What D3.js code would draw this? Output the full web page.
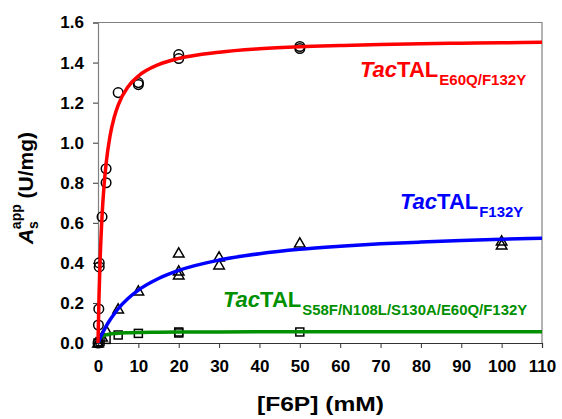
<!DOCTYPE html>
<html>
<head>
<meta charset="utf-8">
<script src="https://cdn.jsdelivr.net/npm/d3@7"></script>
<style>
  body { margin: 0; background: #fff; }
  text { font-family: Arial, "Liberation Sans", sans-serif; font-weight: bold; }
</style>
</head>
<body>
<svg id="chart" width="562" height="419"></svg>
<script>
// measured points, [F6P] mM vs activity U/mg
var dblPts = [[0,0],[0.1,0.09],[0.2,0.17],[0.3,0.38],[0.3,0.40],[1,0.63],[2,0.80],[2,0.87],
              [5,1.25],[10,1.29],[10,1.30],[20,1.42],[20,1.44],[50,1.47],[50,1.48]];
var f132yPts = [[0,0],[1,0.03],[2,0.065],[5,0.17],[10,0.26],[20,0.34],[20,0.36],[20,0.45],
                [30,0.39],[30,0.43],[50,0.50],[100,0.49],[100,0.51]];
var multiPts = [[0,0],[0.5,0.007],[2,0.018],[5,0.04],[10,0.048],[20,0.05],[20,0.055],[50,0.055]];

// fitted curves
var fitX = [0,0.25,0.5,1,1.5,2,3,4,5,7.5,10,15,20,30,40,50,60,70,80,90,100,110];
var dblFit   = [0,0.23,0.40,0.633,0.786,0.894,1.036,1.126,1.188,1.281,1.333,1.390,1.421,1.452,1.469,1.479,1.485,1.490,1.494,1.497,1.499,1.501];
var f132yFit = [0,0.0118,0.0232,0.0446,0.064,0.0829,0.116,0.145,0.171,0.223,0.264,0.322,0.3625,0.414,0.446,0.468,0.483,0.495,0.504,0.512,0.518,0.523];
var multiFit = [0,0.0136,0.0219,0.0317,0.0372,0.0407,0.045,0.0474,0.0491,0.0513,0.0528,0.0539,0.0548,0.0555,0.0559,0.0561,0.0562,0.0563,0.0564,0.0565,0.0565,0.0566];

var xTicks = d3.range(0, 111, 10);
var yTicks = [0,0.2,0.4,0.6,0.8,1.0,1.2,1.4,1.6];

var svg = d3.select("#chart");
var x = d3.scaleLinear().domain([0,110]).range([98,542]);
var y = d3.scaleLinear().domain([0,1.6]).range([343,22.5]);

// frame
svg.append("path")
  .attr("d", "M" + x(0) + "," + y(1.6) + "H" + x(110) + "V" + y(0))
  .attr("fill", "none").attr("stroke", "#808080").attr("stroke-width", 1.2);

var yAxis = svg.append("g").attr("transform", "translate(" + x(0) + ",0)")
  .call(d3.axisLeft(y).tickValues(yTicks).tickFormat(d3.format(".1f")).tickSize(5).tickPadding(9));
var xAxis = svg.append("g").attr("transform", "translate(0," + y(0) + ")")
  .call(d3.axisBottom(x).tickValues(xTicks).tickSize(5).tickPadding(12));
yAxis.select(".domain").attr("stroke", "#808080").attr("stroke-width", 1.2);
xAxis.select(".domain").attr("stroke", "#333").attr("stroke-width", 1.2);
svg.selectAll(".tick line").attr("stroke", "#333");
svg.selectAll(".tick text").attr("font-size", 17).attr("fill", "#000")
  .style("font-family", "Arial, 'Liberation Sans', sans-serif").style("font-weight", "bold");

// markers
var g2 = svg.append("g");
g2.selectAll("circle").data(dblPts).enter().append("circle")
  .attr("cx", d => x(d[0])).attr("cy", d => y(d[1])).attr("r", 4.8)
  .attr("fill", "none").attr("stroke", "#000").attr("stroke-width", 1.5);
g2.selectAll(".tri").data(f132yPts).enter().append("path").attr("class", "tri")
  .attr("d", d3.symbol().type(d3.symbolTriangle).size(48))
  .attr("transform", d => "translate(" + x(d[0]) + "," + (y(d[1]) + 1) + ")")
  .attr("fill", "none").attr("stroke", "#000").attr("stroke-width", 1.5);
g2.selectAll(".sq").data(multiPts).enter().append("rect").attr("class", "sq")
  .attr("x", d => x(d[0]) - 4).attr("y", d => y(d[1]) - 4).attr("width", 8).attr("height", 8)
  .attr("fill", "none").attr("stroke", "#000").attr("stroke-width", 1.5);

// fitted lines
var line = d3.line().curve(d3.curveMonotoneX).x(d => x(d[0])).y(d => y(d[1]));
[[multiFit, "#009000"], [f132yFit, "#0000ff"], [dblFit, "#ff0000"]].forEach(function(s){
  svg.append("path").datum(fitX.map((v, i) => [v, s[0][i]]))
    .attr("d", line).attr("fill", "none").attr("stroke", s[1]).attr("stroke-width", 3.5);
});

// series labels
function seriesLabel(px, py, sub, subW, color){
  var t = svg.append("text").attr("x", px).attr("y", py).attr("fill", color).attr("font-size", 22);
  t.append("tspan").attr("font-style", "italic").text("Tac");
  t.append("tspan").text("TAL");
  t.append("tspan").attr("font-size", 14).attr("dx", 1).attr("dy", 8)
    .attr("textLength", subW).attr("lengthAdjust", "spacingAndGlyphs").text(sub);
}
seriesLabel(360, 77, "E60Q/F132Y", 87, "#ff0000");
seriesLabel(400, 209, "F132Y", 44, "#0000ff");
seriesLabel(223, 307, "S58F/N108L/S130A/E60Q/F132Y", 225, "#009000");

// axis titles
svg.append("text").attr("x", 257).attr("y", 411)
  .attr("textLength", 127).attr("lengthAdjust", "spacingAndGlyphs")
  .attr("font-size", 21).text("[F6P] (mM)");
var yl = svg.append("text").attr("transform", "translate(33,188) rotate(-90)")
  .attr("text-anchor", "middle").attr("font-size", 21);
yl.append("tspan").attr("font-style", "italic").text("A");
yl.append("tspan").attr("font-size", 14).attr("dy", 5).text("s");
yl.append("tspan").attr("font-size", 14).attr("dx", -8).attr("dy", -17).text("app");
yl.append("tspan").attr("dy", 12).text(" (U/mg)");
</script>
</body>
</html>
